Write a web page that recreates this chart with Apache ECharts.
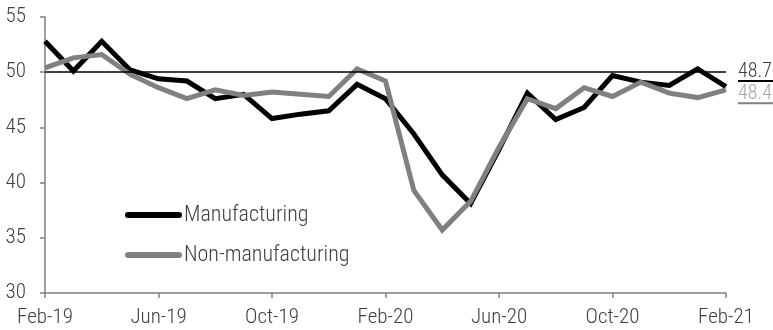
<!DOCTYPE html>
<html>
<head>
<meta charset="utf-8">
<script src="https://cdn.jsdelivr.net/npm/echarts@6/dist/echarts.min.js"></script>
<style>
  html, body { margin: 0; padding: 0; background: #fff; }
  #main { width: 773px; height: 330px; }
</style>
</head>
<body>
<div id="main"></div>
<script>
    // monthly categories Feb-19 .. Feb-21
    var months = ['Feb-19', 'Mar-19', 'Apr-19', 'May-19', 'Jun-19', 'Jul-19', 'Aug-19', 'Sep-19',
        'Oct-19', 'Nov-19', 'Dec-19', 'Jan-20', 'Feb-20', 'Mar-20', 'Apr-20', 'May-20',
        'Jun-20', 'Jul-20', 'Aug-20', 'Sep-20', 'Oct-20', 'Nov-20', 'Dec-20', 'Jan-21', 'Feb-21'];

    var manufacturing = [52.8, 50.1, 52.8, 50.2, 49.4, 49.2, 47.6, 48.0, 45.8, 46.2, 46.5, 48.9, 47.6,
        44.4, 40.7, 38.1, 43.0, 48.1, 45.7, 46.8, 49.7, 49.1, 48.8, 50.3, 48.7];

    var nonManufacturing = [50.4, 51.3, 51.6, 49.8, 48.6, 47.6, 48.4, 47.9, 48.2, 48.0, 47.8, 50.3, 49.2,
        39.3, 35.7, 38.3, 43.2, 47.6, 46.7, 48.6, 47.8, 49.1, 48.1, 47.7, 48.4];

    var yTicks = { min: 30, max: 55, step: 5 };
    var refLevel = 50;

    // light narrow face
    var txt = { fontFamily: 'Roboto', fontStyle: 'condensed', fontWeight: 300 };

    var myChart = echarts.init(document.getElementById('main'));

    function lastLabel(color, lineColor, dy) {
        return {
            show: true,
            distance: 12,
            offset: [0, dy],
            formatter: function (p) {
                return '{v|' + p.value.toFixed(1) + '}\n{u|}';
            },
            rich: {
                v: Object.assign({ fontSize: 20, color: color, lineHeight: 17 }, txt),
                u: { width: 36, height: 2, lineHeight: 2, backgroundColor: lineColor }
            }
        };
    }

    var option = {
        animation: false,
        grid: { left: 45, right: 47, top: 17, bottom: 37 },
        legend: {
            orient: 'vertical',
            left: 125,
            top: 204,
            padding: 0,
            itemWidth: 57,
            itemHeight: 6,
            itemGap: 18,
            icon: 'path://M3,0 H54 A3,3 0 0 1 54,6 H3 A3,3 0 0 1 3,0 Z',
            textStyle: Object.assign({ fontSize: 22, color: '#404040', padding: [0, 0, 0, -3] }, txt),
            data: ['Manufacturing', 'Non-manufacturing']
        },
        xAxis: {
            type: 'category',
            boundaryGap: false,
            data: months,
            axisLine: { lineStyle: { color: '#808080', width: 1.5 } },
            axisTick: { interval: 3, length: 5, lineStyle: { color: '#808080', width: 1.5 } },
            axisLabel: Object.assign({ interval: 3, margin: 14, fontSize: 21, color: '#404040' }, txt)
        },
        yAxis: {
            type: 'value',
            min: yTicks.min,
            max: yTicks.max,
            interval: yTicks.step,
            axisLine: { show: true, lineStyle: { color: '#808080', width: 1.5 } },
            axisTick: { show: true, length: 5, lineStyle: { color: '#808080', width: 1.5 } },
            axisLabel: Object.assign({ margin: 19, fontSize: 21, color: '#404040' }, txt),
            splitLine: { show: false }
        },
        series: [
            {
                name: 'Manufacturing',
                type: 'line',
                data: manufacturing,
                symbol: 'none',
                color: '#000000',
                lineStyle: { color: '#000000', width: 5, join: 'miter' },
                endLabel: lastLabel('#404040', '#000000', -14),
                markLine: {
                    silent: true,
                    symbol: 'none',
                    label: { show: false },
                    lineStyle: { color: '#000000', width: 1.5, type: 'solid' },
                    data: [{ yAxis: refLevel }]
                }
            },
            {
                name: 'Non-manufacturing',
                type: 'line',
                data: nonManufacturing,
                symbol: 'none',
                color: '#808080',
                lineStyle: { color: '#808080', width: 5, join: 'miter' },
                endLabel: lastLabel('#a6a6a6', '#808080', 5)
            }
        ]
    };

    myChart.setOption(option);
</script>
</body>
</html>
